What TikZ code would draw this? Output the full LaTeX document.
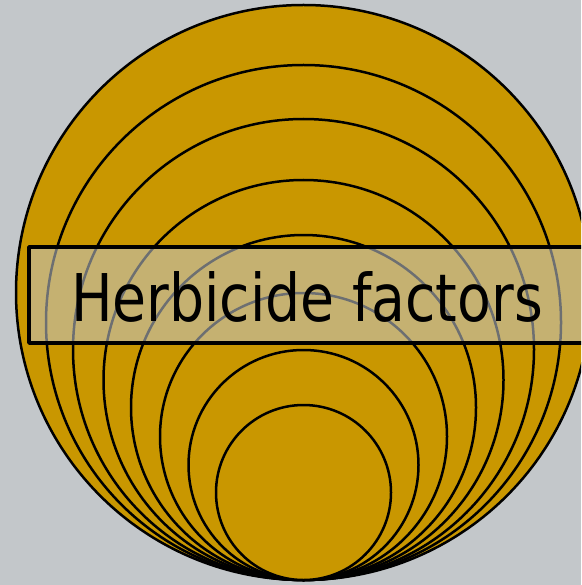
\documentclass[tikz,border=0pt]{standalone}
\usepackage{fontspec}
\newfontfamily\bannerfont[FakeStretch=0.84]{DejaVu Sans}
\definecolor{bggrey}{RGB}{195,199,202}
\definecolor{ringfill}{RGB}{201,151,0}
\tikzset{ring/.style={draw=black,line width=2.5pt,fill=ringfill},
  banner/.style={draw=black,line width=3.5pt,fill=bggrey,fill opacity=0.56}}
\begin{document}
\begin{tikzpicture}[x=1pt,y=-1pt,line cap=round,line join=round]
	\clip (0,0) rectangle (581,585);
	\fill[bggrey] (0,0) rectangle (581,585);
	\foreach \r in {287.5,257.5,230.5,200,172.5,143.5,115,87.5}
	\draw[ring] ({303.5},{580-\r}) circle (\r pt);
	\draw[banner] (29,247) rectangle (600,343);
	\node[anchor=base,inner sep=0pt] (label) at (307,321) {\bannerfont\fontsize{65.8}{70}\selectfont Herbicide factors};
\end{tikzpicture}
\end{document}
